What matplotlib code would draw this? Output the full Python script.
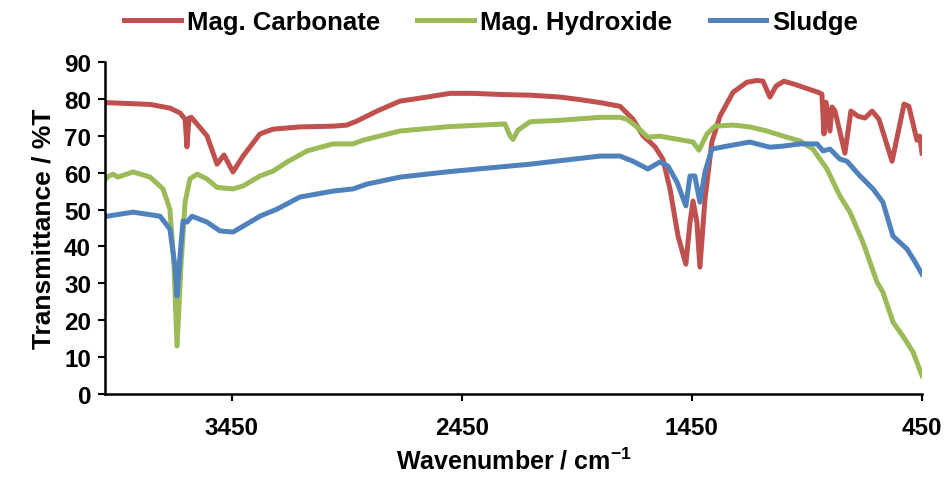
import matplotlib
matplotlib.use("Agg")
from matplotlib import pyplot as plt

plt.rcParams['font.family'] = ['Liberation Sans', 'DejaVu Sans']
plt.rcParams['font.weight'] = 'bold'
plt.rcParams['mathtext.fontset'] = 'custom'
plt.rcParams['mathtext.rm'] = 'Liberation Sans:bold'
plt.rcParams['mathtext.bf'] = 'Liberation Sans:bold'

# FTIR spectra, wavenumber (cm-1) vs transmittance (%T)
carb_wn = [4000, 3804, 3718, 3674, 3652, 3644, 3635, 3625, 3557, 3513, 3483, 3444,
           3400, 3327, 3270, 3153, 3009, 2949, 2905, 2818, 2718, 2600, 2501, 2400,
           2284, 2150, 2023, 1936, 1849, 1762, 1706, 1662, 1610, 1576, 1545, 1510,
           1476, 1458, 1445, 1428, 1415, 1393, 1363, 1328, 1271, 1211, 1167, 1141,
           1111, 1084, 1050, 1006, 902, 885, 876, 867, 850, 841, 828, 785, 759, 728,
           698, 667, 637, 580, 528, 507, 472, 460, 450]
carb_t = [79, 78.5, 77.5, 76.2, 74.5, 67, 74.8, 75, 70, 62.3, 64.8, 60.2,
          64.5, 70.5, 71.8, 72.4, 72.6, 72.9, 74, 76.7, 79.4, 80.5, 81.5, 81.5,
          81.2, 81, 80.5, 79.8, 79, 78, 74.5, 70, 67, 63.7, 55.6, 42.8,
          35.2, 46.6, 52.3, 46.6, 34.4, 52.8, 68.3, 75.3, 81.8, 84.5, 85, 84.8,
          80.5, 83.5, 84.8, 84, 81.8, 81.3, 70.5, 79.1, 71.3, 77.8, 76.7, 65.3, 76.7, 75.3,
          74.8, 76.7, 74.5, 63.1, 78.6, 78, 68.8, 69.9, 65.3]

hydr_wn = [4000, 3991, 3965, 3944, 3878, 3804, 3748, 3718, 3700, 3687, 3670, 3652,
           3631, 3600, 3557, 3513, 3444, 3400, 3327, 3270, 3209, 3122, 3009, 2922,
           2879, 2718, 2501, 2262, 2240, 2227, 2206, 2153, 2023, 1849, 1762, 1732,
           1688, 1641, 1589, 1545, 1471, 1445, 1419, 1384, 1350, 1271, 1198, 1124,
           1037, 980, 924, 863, 807, 763, 707, 646, 620, 576, 533, 489, 450]
hydr_t = [58, 58.8, 59.6, 58.8, 60.2, 58.8, 55.6, 50.1, 34.7, 13, 34.7, 52,
          58.3, 59.6, 58.3, 56, 55.6, 56.4, 59.1, 60.4, 62.9, 65.9, 67.8, 67.8,
          68.8, 71.3, 72.5, 73.2, 70, 69, 71.5, 73.8, 74.2, 75, 75, 74.5,
          72.4, 69.6, 69.9, 69.4, 68.6, 68.3, 66.1, 70.5, 72.6, 72.9, 72.4, 71.3,
          69.6, 68.6, 66.4, 61, 53.7, 49.3, 41.2, 30.4, 27.6, 19.5, 15.7, 11.4, 5]

sludge_wn = [4000, 3991, 3878, 3761, 3718, 3696, 3687, 3674, 3661, 3644, 3622, 3557,
             3500, 3444, 3383, 3327, 3253, 3153, 3009, 2922, 2862, 2718, 2501, 2153,
             1849, 1762, 1706, 1641, 1589, 1554, 1515, 1476, 1458, 1437, 1415, 1393,
             1363, 1297, 1198, 1111, 1054, 980, 906, 880, 850, 807, 776, 719, 663,
             620, 576, 515, 480, 450]
sludge_t = [48, 48.2, 49.3, 48.2, 44.7, 34.7, 26.6, 37.4, 46.9, 46.6, 48.2, 46.6,
            44.2, 43.9, 46.1, 48.2, 50.1, 53.4, 55, 55.6, 56.9, 58.8, 60.3, 62.3,
            64.5, 64.5, 63.1, 61, 62.9, 61.8, 57.5, 51, 59.1, 59.1, 52, 60.2,
            66.4, 67.2, 68.3, 66.9, 67.2, 67.8, 67.8, 65.9, 66.4, 63.7, 63.1, 59.1, 55.6,
            52, 42.8, 39.3, 35.8, 32.5]

fig = plt.figure(figsize=(9.52, 4.81), dpi=100)
ax = fig.add_axes([105/952, 86/481, 817/952, 332/481])

lw = 3.6
ax.plot(carb_wn, carb_t, color='#C0504D', lw=lw, label='Mag. Carbonate', solid_joinstyle='round')
ax.plot(hydr_wn, hydr_t, color='#9BBB59', lw=lw, label='Mag. Hydroxide', solid_joinstyle='round')
ax.plot(sludge_wn, sludge_t, color='#4F81BD', lw=lw, label='Sludge', solid_joinstyle='round')

ax.set_xlim(4000, 450)
ax.set_ylim(0, 90)
ax.set_xticks([3450, 2450, 1450, 450])
ax.set_yticks(range(0, 91, 10))
for s in ['top', 'right']:
    ax.spines[s].set_visible(False)
for s in ['left', 'bottom']:
    ax.spines[s].set_linewidth(1.8)
ax.tick_params(direction='out', length=5, width=1.5, labelsize=17.5, pad=5)
ax.tick_params(axis='x', pad=11)

ax.set_ylabel('Transmittance / %T', fontsize=19, fontweight='bold', labelpad=6)
ax.set_xlabel(r'Wavenumber / cm$^{-1}$', fontsize=18, fontweight='bold', labelpad=6)

fig.legend(loc='upper center', bbox_to_anchor=(0.516, 1.025), ncol=3, frameon=False,
           fontsize=18.5, handlelength=2.2, handletextpad=0.25, columnspacing=1.45)

fig.savefig('out.png', dpi=100)
